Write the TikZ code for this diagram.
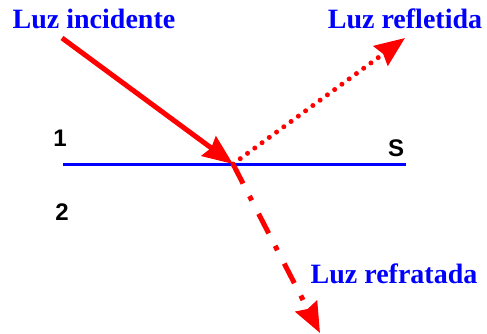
\documentclass[tikz,border=0pt]{standalone}
\usepackage{fontspec}
\setmainfont{Liberation Serif}
\setsansfont{Liberation Sans}
\usepackage{tikz}
\usetikzlibrary{arrows.meta,positioning}
\usepackage{xcolor}
\definecolor{raysred}{HTML}{FF0000}
\definecolor{raysblue}{HTML}{0000FF}
\tikzset{
  raylabel/.style={
    text=raysblue,
    inner sep=0pt,
    font=\fontsize{28}{30}\selectfont\bfseries
  },
  medlabel/.style={
    text=black,
    inner sep=0pt,
    font=\fontsize{24}{26}\selectfont\sffamily\bfseries
  },
  rayarrow/.style={
    -{Stealth[length=30pt, width=24pt, inset=3pt]},
    line width=5pt,
    draw=raysred
  },
  reflarrow/.style={rayarrow, line cap=round, dash pattern=on 0pt off 9pt},
  refrarrow/.style={rayarrow, dash pattern=on 22pt off 14pt on 5pt off 15pt},
  surface/.style={draw=raysblue, line width=3pt}
}

\begin{document}
\begin{tikzpicture}[x=1pt, y=-1pt]
\useasboundingbox (0,0) rectangle (487,334);
% labels
\node[raylabel] (inc) at (94,19) {Luz incidente};
\node[raylabel] (refl) at (405,19) {Luz refletida};
\node[raylabel] (refr) at (394,274) {Luz refratada};
\node[medlabel] (one) at (60,138) {1};
\node[medlabel] (two) at (62,212) {2};
\node[medlabel] (surf) at (396,148) {S};
% ray ends
\coordinate (src) at (62,38);
\coordinate (hit) at (233,164);
\coordinate (refltip) at (405,38);
\coordinate (refrtip) at (320,333);
\coordinate (sleft) at (63,164);
\coordinate (sright) at (406,164);
% surface and rays
\draw[surface] (sleft) -- (sright);
\draw[rayarrow] (src) -- (hit);
\draw[reflarrow] (hit) -- (refltip);
\draw[refrarrow] (hit) -- (refrtip);
\end{tikzpicture}
\end{document}
